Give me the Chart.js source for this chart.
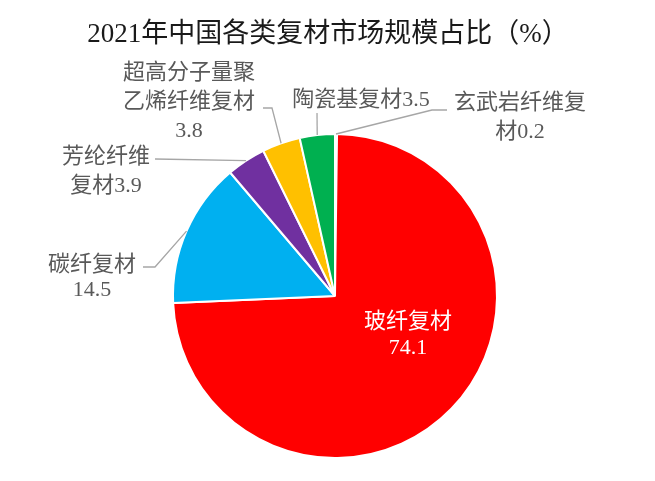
<!DOCTYPE html>
<html>
<head>
<meta charset="utf-8">
<script src="https://cdn.jsdelivr.net/npm/chart.js@4/dist/chart.umd.min.js"></script>
<style>
  html, body { margin: 0; padding: 0; background: #fff; }
  #wrap { width: 655px; height: 481px; position: relative; }
</style>
</head>
<body>
<div id="wrap"><canvas id="pie"></canvas></div>
<script>
const titleText = "2021年中国各类复材市场规模占比（%）";
const categories = ["玄武岩纤维复材", "玻纤复材", "碳纤复材", "芳纶纤维复材", "超高分子量聚乙烯纤维复材", "陶瓷基复材"];
const shares = [0.2, 74.1, 14.5, 3.9, 3.8, 3.5];
const sliceColors = ["#4472c4", "#ff0000", "#00b0f0", "#7030a0", "#ffc000", "#00b050"];

// where each label sits, relative to the pie centre (line breaks, text lines, leader elbow)
const labelLayout = [
    {breaks: [6], x: 185, y: [-193, -164], elbow: [[97, -186], [112, -186]]},
    {breaks: [4], x: 73, y: [26, 52], inside: true},
    {breaks: [4], x: -243, y: [-31, -6], elbow: [[-180, -29], [-192, -29]]},
    {breaks: [4], x: -229, y: [-139, -110], elbow: [[-180, -137]]},
    {breaks: [6, 12], x: -146, y: [-223, -194, -165], elbow: [[-63, -188], [-72, -188]]},
    {breaks: [], x: 26, y: [-196], elbow: [[-18, -183]]}
];

function splitLabel(str, breaks) {
    const out = [];
    let start = 0;
    breaks.forEach(b => { out.push(str.slice(start, b)); start = b; });
    out.push(str.slice(start));
    return out;
}

const labelPlugin = {
    id: "pieLabels",
    afterDraw(chart) {
        const ctx = chart.ctx;
        const arcs = chart.getDatasetMeta(0).data;

        ctx.save();
        ctx.textAlign = "center";
        ctx.textBaseline = "middle";
        ctx.fillStyle = "#1a1a1a";
        ctx.font = '27px "Liberation Serif", "Noto Sans CJK SC"';
        ctx.fillText(titleText, 328, 35);

        arcs.forEach((arc, i) => {
            const p = arc.getProps(["x", "y", "startAngle", "endAngle", "outerRadius"], true);
            const lay = labelLayout[i];
            const mid = (p.startAngle + p.endAngle) / 2;

            if (lay.elbow) {
                ctx.strokeStyle = "#a6a6a6";
                ctx.lineWidth = 1.3;
                ctx.beginPath();
                ctx.moveTo(p.x + Math.cos(mid) * p.outerRadius, p.y + Math.sin(mid) * p.outerRadius);
                lay.elbow.forEach(pt => ctx.lineTo(p.x + pt[0], p.y + pt[1]));
                ctx.stroke();
            }

            const lines = splitLabel(categories[i] + shares[i], lay.breaks);
            ctx.fillStyle = lay.inside ? "#ffffff" : "#595959";
            ctx.font = '22px "Liberation Serif", "Noto Sans CJK SC"';
            lines.forEach((ln, k) => ctx.fillText(ln, p.x + lay.x, p.y + lay.y[k]));
        });
        ctx.restore();
    }
};

new Chart(document.getElementById("pie"), {
    type: "pie",
    data: {
        labels: categories,
        datasets: [{
            data: shares,
            backgroundColor: sliceColors,
            borderColor: "#ffffff",
            borderWidth: 2,
            hoverOffset: 0
        }]
    },
    options: {
        responsive: true,
        maintainAspectRatio: false,
        animation: false,
        layout: {padding: {top: 133, bottom: 22, left: 150, right: 135}},
        plugins: {
            legend: {display: false},
            tooltip: {enabled: false},
            title: {display: false}
        }
    },
    plugins: [labelPlugin]
});
</script>
</body>
</html>
